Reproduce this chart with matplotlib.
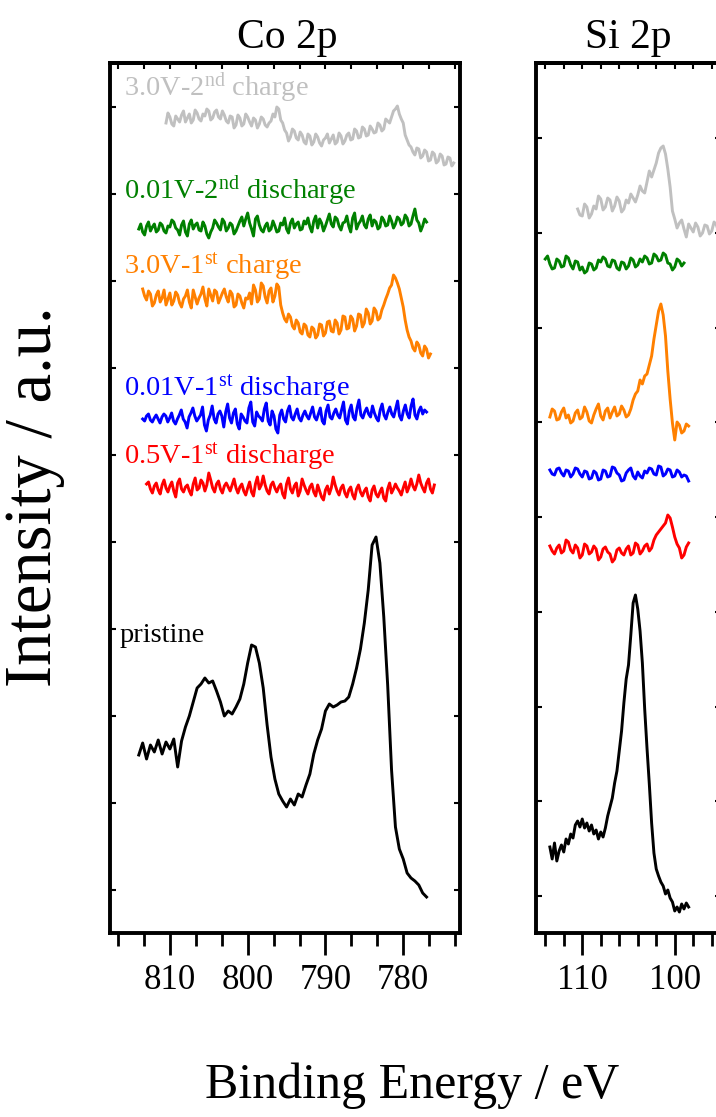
import matplotlib
matplotlib.use("Agg")
import matplotlib.pyplot as plt
from matplotlib.ticker import MultipleLocator, AutoMinorLocator
import numpy as np

plt.rcParams['font.family'] = ['Liberation Serif', 'DejaVu Serif']
plt.rcParams['mathtext.fontset'] = 'custom'
plt.rcParams['mathtext.rm'] = 'Liberation Serif'
plt.rcParams['mathtext.it'] = 'Liberation Serif:italic'

# ---- sample names / colours (bottom -> top) ----
labels = ['pristine',
          r'0.5V-1$^{\mathrm{st}}$ discharge',
          r'0.01V-1$^{\mathrm{st}}$ discharge',
          r'3.0V-1$^{\mathrm{st}}$ charge',
          r'0.01V-2$^{\mathrm{nd}}$ discharge',
          r'3.0V-2$^{\mathrm{nd}}$ charge']
colors = ['black', '#ff0000', '#0000ff', '#ff8000', '#008000', '#c0c0c0']

# ---- Co 2p, stacked intensity (a.u.), energy range in eV ----
co_range = [(814.0, 777.0), (813.0, 776.0), (813.5, 777.0),
            (813.5, 776.5), (814.0, 777.0), (810.5, 773.5)]

co_pristine = [180, 192, 176, 190, 183, 195, 181, 193, 186, 196, 168, 194, 208, 219, 233,
               247, 251, 257, 252, 254, 244, 233, 219, 224, 221, 228, 236, 251, 272, 290,
               288, 272, 247, 210, 178, 156, 141, 134, 128, 136, 130, 141, 138, 150, 161,
               181, 195, 206, 224, 231, 228, 230, 233, 234, 238, 251, 267, 286, 312, 345,
               390, 398, 372, 318, 250, 165, 108, 86, 76, 62, 57, 54, 50, 42, 38]
co_05v_dis1 = [451, 453, 446, 442, 449, 452, 445, 441, 450, 455, 447, 443, 449, 453, 444,
               438, 452, 456, 446, 443, 448, 450, 444, 440, 451, 457, 445, 447, 455, 452,
               444, 450, 462, 455, 447, 443, 451, 454, 446, 442, 449, 452, 448, 444, 450,
               456, 447, 442, 448, 451, 444, 440, 447, 453, 443, 439, 451, 458, 446, 450,
               459, 450, 444, 441, 450, 453, 447, 443, 448, 451, 441, 437, 451, 457, 446,
               442, 449, 452, 439, 444, 456, 450, 445, 441, 448, 451, 443, 439, 450, 444,
               438, 435, 445, 449, 441, 447, 458, 450, 444, 440, 447, 450, 442, 438, 445,
               448, 440, 436, 446, 450, 443, 439, 444, 447, 438, 434, 445, 449, 441, 438,
               443, 447, 437, 434, 446, 452, 442, 446, 451, 447, 444, 440, 447, 453, 443,
               448, 456, 449, 445, 451, 460, 452, 447, 443, 452, 456, 446, 442, 450]
co_001v_dis1 = [516, 514, 519, 521, 515, 513, 517, 520, 516, 512, 518, 521, 519, 513, 517,
                522, 514, 511, 516, 520, 525, 516, 513, 507, 518, 522, 527, 519, 514, 517,
                520, 528, 510, 504, 515, 520, 529, 516, 512, 521, 524, 519, 508, 523, 531,
                517, 512, 522, 526, 511, 506, 521, 518, 514, 512, 527, 533, 513, 509, 523,
                519, 517, 514, 526, 532, 514, 510, 524, 519, 506, 502, 520, 525, 516, 513,
                524, 529, 518, 515, 521, 526, 517, 514, 520, 524, 519, 516, 522, 528, 518,
                515, 521, 527, 514, 511, 524, 530, 518, 516, 522, 526, 520, 517, 525, 533,
                515, 511, 524, 530, 518, 515, 527, 535, 520, 517, 523, 527, 521, 518, 529,
                522, 517, 514, 525, 531, 520, 516, 523, 528, 521, 518, 526, 534, 519, 515,
                524, 530, 521, 517, 529, 536, 520, 516, 524, 528, 521, 525, 523]
co_30v_ch1 = [646, 639, 635, 644, 641, 629, 632, 640, 644, 633, 637, 645, 630, 636, 642,
              630, 634, 643, 640, 632, 628, 636, 639, 645, 633, 627, 645, 638, 631, 637,
              641, 648, 636, 629, 646, 640, 634, 645, 643, 632, 637, 642, 646, 638, 633,
              644, 641, 628, 630, 641, 639, 632, 627, 637, 636, 642, 631, 650, 645, 633,
              636, 652, 649, 638, 632, 644, 647, 633, 639, 651, 648, 630, 622, 616, 613,
              621, 618, 609, 606, 615, 612, 603, 601, 611, 609, 600, 598, 608, 606, 597,
              600, 611, 610, 599, 602, 613, 614, 604, 603, 615, 612, 601, 605, 619, 618,
              606, 607, 619, 616, 604, 609, 621, 620, 608, 612, 626, 622, 611, 614, 627,
              624, 615, 617, 625, 630, 636, 641, 647, 650, 660, 657, 652, 646, 637, 628,
              615, 605, 598, 594, 587, 584, 593, 590, 582, 579, 589, 586, 577, 581]
co_001v_dis2 = [706, 711, 703, 700, 709, 713, 704, 708, 711, 703, 705, 712, 710, 704, 702,
                709, 708, 715, 713, 707, 705, 700, 710, 714, 703, 699, 711, 715, 706, 710,
                712, 705, 704, 713, 709, 701, 697, 703, 707, 715, 712, 708, 705, 716, 713,
                704, 707, 712, 710, 701, 704, 709, 714, 718, 709, 716, 722, 712, 706, 699,
                716, 719, 710, 705, 703, 709, 712, 704, 706, 714, 709, 703, 704, 712, 710,
                717, 706, 702, 712, 716, 707, 711, 713, 705, 706, 714, 711, 717, 708, 703,
                714, 719, 707, 716, 712, 704, 709, 715, 721, 711, 708, 718, 716, 709, 705,
                712, 713, 719, 709, 703, 717, 722, 706, 711, 714, 719, 710, 707, 716, 720,
                709, 715, 713, 706, 708, 718, 715, 709, 710, 719, 714, 707, 711, 718, 716,
                710, 712, 720, 717, 709, 711, 719, 726, 715, 712, 704, 709, 716, 713]
co_30v_ch2 = [812, 822, 818, 811, 809, 819, 816, 813, 820, 824, 813, 817, 821, 812, 815,
              825, 822, 816, 814, 821, 819, 826, 824, 815, 817, 823, 825, 818, 816, 824,
              820, 814, 812, 819, 818, 807, 810, 820, 817, 809, 811, 821, 818, 813, 809,
              817, 815, 807, 811, 818, 816, 810, 808, 812, 814, 821, 818, 828, 826, 815,
              812, 805, 802, 794, 798, 806, 804, 797, 795, 803, 800, 793, 791, 801, 799,
              790, 793, 801, 798, 792, 789, 795, 797, 801, 792, 796, 800, 791, 793, 802,
              799, 791, 794, 800, 802, 795, 796, 806, 804, 797, 798, 808, 806, 799, 800,
              809, 806, 802, 803, 812, 810, 804, 806, 816, 814, 812, 818, 824, 826, 829,
              821, 816, 812, 800, 795, 790, 788, 783, 780, 787, 786, 777, 779, 785, 783,
              774, 775, 783, 781, 772, 774, 781, 779, 770, 771, 778, 777, 769, 772]

# ---- Si 2p, stacked intensity (a.u.), energy range in eV ----
si_range = [(113.5, 98.5), (113.5, 98.5), (113.5, 98.5),
            (113.5, 98.5), (114.0, 99.0), (110.5, 95.0)]

si_pristine = [84, 72, 88, 70, 80, 86, 79, 92, 87, 97, 93, 106, 110, 104, 112, 103, 108,
               100, 106, 97, 101, 92, 99, 94, 103, 115, 124, 133, 148, 160, 180, 200, 228,
               252, 266, 296, 328, 336, 322, 300, 268, 222, 183, 147, 108, 78, 62, 55, 49,
               45, 37, 41, 33, 29, 20, 24, 19, 27, 22, 28, 24]
si_05v_dis1 = [385, 380, 377, 383, 386, 378, 380, 391, 389, 381, 378, 386, 383, 373, 376,
               387, 385, 377, 379, 385, 382, 371, 374, 382, 384, 379, 377, 369, 372, 381,
               383, 378, 376, 382, 385, 376, 378, 388, 386, 377, 380, 385, 387, 380, 383,
               391, 396, 399, 402, 405, 408, 416, 413, 404, 394, 387, 383, 373, 376, 384, 388]
si_001v_dis1 = [461, 457, 456, 462, 463, 458, 455, 461, 460, 454, 457, 463, 462, 457, 454,
                460, 459, 452, 453, 460, 458, 451, 452, 461, 460, 454, 455, 464, 463, 458,
                456, 450, 451, 458, 461, 463, 455, 452, 459, 455, 453, 460, 458, 463, 462,
                457, 456, 465, 464, 455, 457, 462, 461, 454, 455, 461, 459, 454, 456, 455, 450]
si_30v_ch1 = [514, 522, 520, 511, 512, 519, 523, 513, 516, 508, 510, 518, 521, 512, 514,
              524, 519, 510, 508, 516, 522, 527, 515, 511, 520, 523, 513, 519, 524, 515,
              517, 525, 521, 514, 516, 522, 531, 537, 540, 551, 547, 555, 557, 566, 575,
              592, 606, 620, 627, 616, 595, 560, 532, 508, 491, 509, 506, 498, 500, 507, 505]
si_001v_dis2 = [672, 675, 667, 662, 663, 672, 670, 664, 665, 675, 673, 666, 662, 670, 669,
                661, 664, 658, 660, 668, 667, 661, 663, 671, 669, 674, 672, 665, 664, 671,
                670, 663, 661, 669, 668, 662, 665, 673, 671, 664, 666, 672, 669, 675, 673,
                667, 668, 677, 675, 670, 671, 678, 676, 668, 667, 661, 664, 672, 670, 665, 668]
si_30v_ch2 = [722, 716, 715, 727, 724, 713, 717, 725, 722, 735, 732, 721, 724, 733, 731,
              720, 725, 734, 730, 719, 722, 731, 728, 737, 733, 729, 736, 745, 740, 738,
              749, 760, 754, 761, 768, 778, 783, 785, 777, 762, 744, 720, 712, 703, 708,
              711, 702, 694, 707, 703, 699, 708, 704, 695, 698, 706, 705, 697, 700, 709,
              706, 699, 703]

co_data = [co_pristine, co_05v_dis1, co_001v_dis1, co_30v_ch1, co_001v_dis2, co_30v_ch2]
si_data = [si_pristine, si_05v_dis1, si_001v_dis1, si_30v_ch1, si_001v_dis2, si_30v_ch2]

# label baselines (same a.u. as Co panel)
label_y = [293, 472, 540, 662, 737, 840]

W, H = 716, 1117
fig = plt.figure(figsize=(W / 100, H / 100), dpi=100)
ax1 = fig.add_axes([110 / W, 1 - 933 / H, 350 / W, 870 / H])
ax2 = fig.add_axes([536 / W, 1 - 933 / H, 185 / W, 870 / H])

for vals, rng, c in zip(co_data, co_range, colors):
    ax1.plot(np.linspace(rng[0], rng[1], len(vals)), vals, color=c, lw=2.1)
for vals, rng, c in zip(si_data, si_range, colors):
    ax2.plot(np.linspace(rng[0], rng[1], len(vals)), vals, color=c, lw=2.1)

for lab, y, c in zip(labels, label_y, colors):
    x0 = 0.026 if lab == 'pristine' else 0.04
    ax1.text(x0, y, lab, color=c, fontsize=20.5, va='baseline', ha='left',
             transform=ax1.get_yaxis_transform())

ax1.set_xlim(817.7, 772.7)
ax1.set_ylim(2, 872)
ax1.set_yticks(np.arange(45, 870, 87))
ax2.set_xlim(115, 95)
ax2.set_ylim(-2, 868)
ax2.set_yticks(np.arange(35, 800, 94.75))

for ax, minor in ((ax1, 3), (ax2, 5)):
    ax.xaxis.set_major_locator(MultipleLocator(10))
    ax.xaxis.set_minor_locator(AutoMinorLocator(minor))
    ax.tick_params(axis='x', which='major', direction='out', length=16, width=2,
                   labelsize=25, pad=6)
    ax.tick_params(axis='x', which='minor', direction='out', length=9, width=2)
    ax.tick_params(axis='y', which='major', direction='in', length=4, width=1.5,
                   left=True, right=True, labelleft=False)
    for s in ax.spines.values():
        s.set_linewidth(2.8)
    top = ax.secondary_xaxis('top')
    top.xaxis.set_major_locator(MultipleLocator(10))
    top.xaxis.set_minor_locator(AutoMinorLocator(minor))
    top.tick_params(which='both', direction='in', length=4, width=1.5, labeltop=False)
    top.spines['top'].set_linewidth(2.8)

fig.text(287 / W, 1 - 48 / H, 'Co 2p', fontsize=30, ha='center', va='baseline')
fig.text(628 / W, 1 - 48 / H, 'Si 2p', fontsize=30, ha='center', va='baseline')
fig.text(412 / W, 1 - 1098 / H, 'Binding Energy / eV', fontsize=36, ha='center',
         va='baseline')
fig.text(35 / W, 1 - 497 / H, 'Intensity / a.u.', fontsize=48, rotation=90,
         ha='center', va='center')

fig.savefig('out.png', dpi=100)
